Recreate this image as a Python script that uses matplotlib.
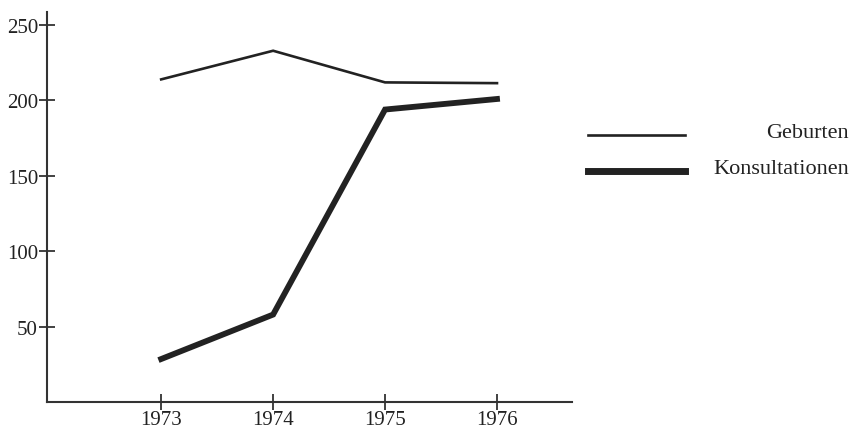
import matplotlib.pyplot as plt
from matplotlib.lines import Line2D

jahre = [1973, 1974, 1975, 1976]
geburten = [214, 233, 212, 211.5]
konsultationen = [28.5, 58, 194, 201]
y_ticks = [50, 100, 150, 200, 250]

plt.rcParams['font.family'] = ['Liberation Serif', 'DejaVu Serif']

fig = plt.figure(figsize=(8.53, 4.31), dpi=100)
ax = fig.add_axes([47/853, 28/431, (572-47)/853, (403-13)/431])

ax.plot(jahre, geburten, color='#222222', lw=1.9, solid_joinstyle='miter')
ax.plot(jahre, konsultationen, color='#222222', lw=4.2, solid_joinstyle='miter')

ax.set_xlim(1971.98, 1976.67)
ax.set_ylim(0, 258.7)
ax.set_xticks(jahre)
ax.set_yticks(y_ticks)
ax.tick_params(direction='inout', length=11, width=1.3, color='#333333',
               labelsize=15, labelcolor='#222222')
ax.tick_params(axis='x', pad=0.5)
ax.tick_params(axis='y', pad=1)
for s in ['top', 'right']:
    ax.spines[s].set_visible(False)
for s in ['left', 'bottom']:
    ax.spines[s].set_linewidth(1.5)
    ax.spines[s].set_color('#333333')

# legend drawn by hand: line on the left, text right-aligned
fig.add_artist(Line2D([588/853, 685/853], [1-136/431, 1-136/431],
                      color='#222222', lw=1.9, transform=fig.transFigure))
fig.add_artist(Line2D([588/853, 685/853], [1-172/431, 1-172/431],
                      color='#222222', lw=5, transform=fig.transFigure))
fig.text(849/853, 1-133/431, 'Geburten', ha='right', va='center',
         fontsize=16, color='#222222')
fig.text(849/853, 1-169/431, 'Konsultationen', ha='right', va='center',
         fontsize=16, color='#222222')

fig.savefig('out.png', dpi=100)
